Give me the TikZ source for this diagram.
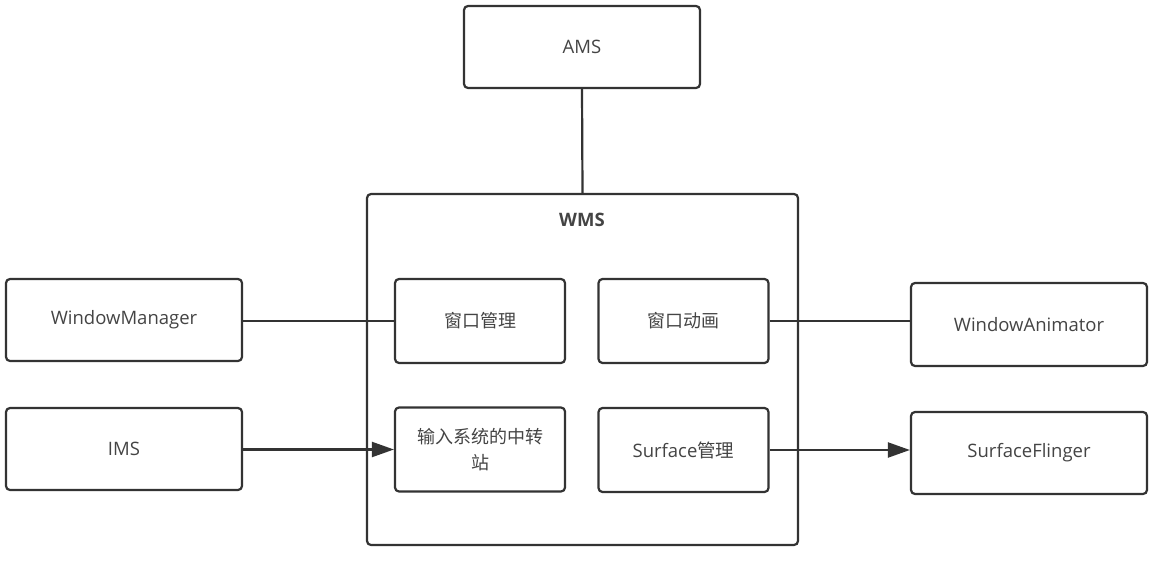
\documentclass[tikz,border=0pt]{standalone}
\usepackage{fontspec}
\setmainfont{Open Sans}
\newfontfamily\cjk{Noto Sans CJK SC}
\usetikzlibrary{arrows.meta}
\definecolor{ln}{HTML}{333333}
\definecolor{tx}{HTML}{444444}
\tikzset{
  box/.style={draw=ln, line width=2.2pt, rounded corners=4pt, text=tx,
    font=\fontsize{18.5}{22}\selectfont, align=center, inner sep=0pt,
    minimum width=236pt, minimum height=82pt},
  inbox/.style={box, minimum width=170pt, minimum height=84pt},
  zh/.style={font=\cjk\fontsize{18}{26}\selectfont},
  conn/.style={draw=ln, line width=2.2pt},
  arr/.style={conn, -{Triangle[length=22pt,width=15pt]}},
}
\begin{document}
\begin{tikzpicture}[x=1pt,y=-1pt]
\useasboundingbox (0,0) rectangle (1161,564);
\node[box] (ams) at (582,47) {AMS};
\node[box, minimum width=431pt, minimum height=351pt] (wms) at (582.5,369.5) {};
\node[text=tx, font=\bfseries\fontsize{18.5}{22}\selectfont] (wmst) at (582,220) {WMS};
\node[box] (wm) at (124,320) {WindowManager};
\node[box] (ims) at (124,449) {IMS};
\node[inbox, zh] (wmgr) at (480,321) {窗口管理};
\node[inbox, zh] (wani) at (683.5,321) {窗口动画};
\node[inbox, zh] (inp) at (480,449.5) {输入系统的中转\\站};
\node[inbox] (surf) at (683.5,450) {Surface{\cjk 管理}};
\node[box, minimum height=83pt] (wa) at (1029,324.5) {WindowAnimator};
\node[box] (sf) at (1029,453) {SurfaceFlinger};
% connectors
\draw[conn] (ams.south) -- (wms.north);
\draw[conn] (wm.east |- wmgr.west) -- (wmgr.west);
\draw[arr] (ims.east |- inp.west) -- (inp.west);
\draw[conn] (wani.east) -- (wa.west |- wani.east);
\draw[arr] (surf.east) -- (sf.west |- surf.east);
\end{tikzpicture}
\end{document}
